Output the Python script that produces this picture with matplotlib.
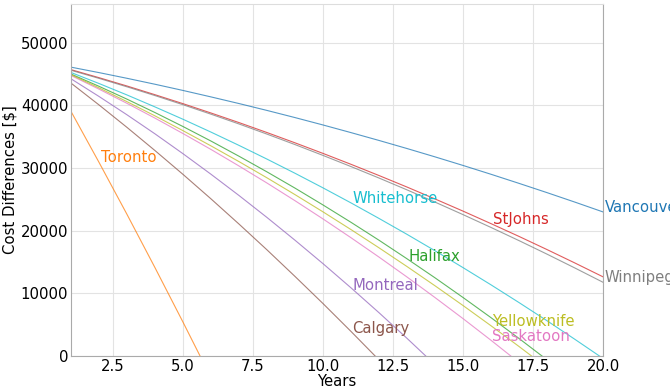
import numpy as np
import matplotlib.pyplot as plt

# years on the x axis
years = np.arange(1, 21)

# cost difference per year for each city, in dollars (lists stop once below zero)
vancouver = [46100, 45230, 44320, 43370, 42380, 41350, 40290, 39190, 38050, 36870,
             35650, 34400, 33110, 31780, 30410, 29000, 27550, 26070, 24550, 22990]
toronto = [39030, 30900, 22590, 14080, 5390, -3480]
halifax = [45000, 43040, 40990, 38850, 36620, 34300, 31880, 29380, 26790, 24100,
           21330, 18470, 15510, 12470, 9330, 6110, 2790, -620]
stjohns = [45700, 44420, 43090, 41700, 40270, 38780, 37250, 35660, 34020, 32330,
           30590, 28800, 26960, 25060, 23120, 21120, 19080, 16980, 14830, 12630]
montreal = [44240, 41420, 38490, 35450, 32280, 29000, 25610, 22100, 18470, 14730,
            10870, 6900, 2810, -1400]
calgary = [43550, 40070, 36480, 32780, 28980, 25070, 21050, 16930, 12690, 8360,
           3910, -640]
saskatoon = [44770, 42590, 40320, 37960, 35500, 32960, 30320, 27600, 24780, 21870,
             18870, 15780, 12600, 9320, 5960, 2500, -1050]
winnipeg = [45600, 44310, 42960, 41560, 40100, 38590, 37030, 35410, 33740, 32010,
            30230, 28400, 26510, 24560, 22560, 20510, 18410, 16250, 14030, 11760]
yellowknife = [44900, 42790, 40590, 38320, 35960, 33530, 31020, 28430, 25750, 23000,
               20170, 17260, 14270, 11200, 8050, 4820, 1510, -1880]
whitehorse = [45250, 43490, 41660, 39750, 37780, 35730, 33610, 31420, 29160, 26830,
              24430, 21950, 19410, 16790, 14100, 11350, 8520, 5620, 2640, -400]

cities = ['Vancouver', 'Toronto', 'Halifax', 'StJohns', 'Montreal',
          'Calgary', 'Saskatoon', 'Winnipeg', 'Yellowknife', 'Whitehorse']
series = [vancouver, toronto, halifax, stjohns, montreal,
          calgary, saskatoon, winnipeg, yellowknife, whitehorse]
colors = ['tab:blue', 'tab:orange', 'tab:green', 'tab:red', 'tab:purple',
          'tab:brown', 'tab:pink', 'tab:gray', 'tab:olive', 'tab:cyan']

# where each city name is written
label_pos = {
    'Vancouver': (20.05, vancouver[-1]),
    'Toronto': (2.07, 30900),
    'Halifax': (13.05, 15100),
    'StJohns': (16.07, 21000),
    'Montreal': (11.05, 10500),
    'Calgary': (11.05, 3700),
    'Saskatoon': (16.05, 2400),
    'Winnipeg': (20.05, winnipeg[-1]),
    'Yellowknife': (16.05, 4800),
    'Whitehorse': (11.05, 24400),
}

plt.rcParams['font.size'] = 10.7

fig = plt.figure(figsize=(6.7, 3.89), dpi=100)
ax = fig.add_axes([0.106, 0.085, 0.794, 0.905])

for name, vals, c in zip(cities, series, colors):
    ax.plot(years[:len(vals)], vals, color=c, linewidth=0.8, alpha=0.75)
    tx, ty = label_pos[name]
    ax.text(tx, ty, name, color=c, fontsize=10.7, clip_on=False)

ax.set_xlim(1, 20)
ax.set_ylim(0, 56200)
ax.set_xticks([2.5, 5.0, 7.5, 10.0, 12.5, 15.0, 17.5, 20.0])
ax.set_yticks([0, 10000, 20000, 30000, 40000, 50000])
ax.set_xlabel('Years', labelpad=0)
ax.set_ylabel('Cost Differences [$]', labelpad=2)

ax.grid(True, color='#e3e3e3', linewidth=0.8)
ax.set_axisbelow(True)
ax.tick_params(length=0, pad=2)
for s in ['left', 'bottom', 'right']:
    ax.spines[s].set_color('#aaaaaa')
ax.spines['top'].set_color('#dddddd')

fig.savefig('out.png', dpi=100)
